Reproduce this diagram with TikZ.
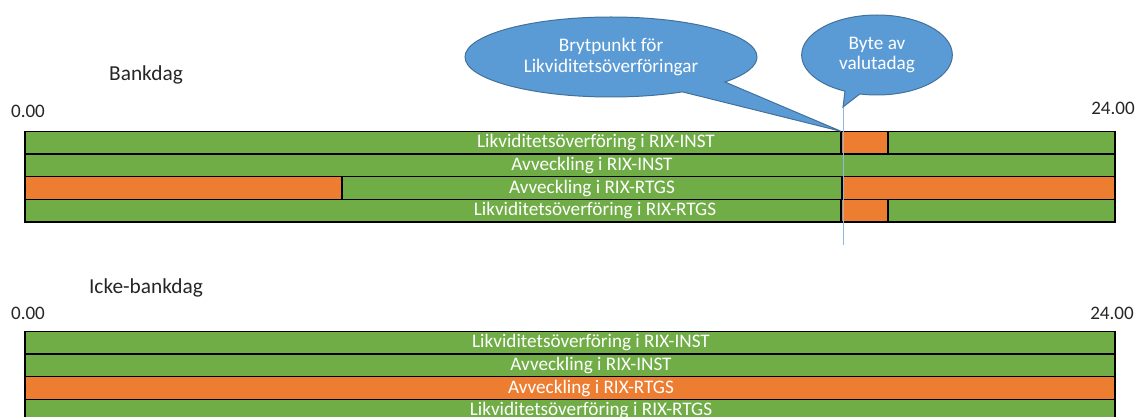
\documentclass[tikz,border=0pt]{standalone}
\usepackage{fontspec}
\setmainfont{Carlito}
\usetikzlibrary{shapes.callouts}

\definecolor{barGreen}{RGB}{112,173,71}
\definecolor{barOrange}{RGB}{237,125,49}
\definecolor{bubbleBlue}{RGB}{91,155,213}
\definecolor{bubbleEdge}{RGB}{65,113,156}

\begin{document}
\begin{tikzpicture}[
    x=0.75pt, y=-0.75pt,
    bar/.style={draw=black, line width=1.1pt},
    green bar/.style={bar, fill=barGreen},
    orange bar/.style={bar, fill=barOrange},
    rowtext/.style={text=white, font=\fontsize{14.4}{15}\selectfont, inner sep=0pt},
    tick/.style={text=black!85, font=\fontsize{14.3}{15}\selectfont, inner sep=0pt},
    heading/.style={text=black!85, font=\fontsize{16}{18}\selectfont, inner sep=0pt},
    bubble/.style={ellipse callout, fill=bubbleBlue, draw=bubbleEdge, line width=0.75pt, text=white, align=center, font=\fontsize{14.4}{15.5}\selectfont, inner sep=0pt},
    valuta line/.style={draw=bubbleBlue!70, line width=0.75pt}
]
\clip (0,0) rectangle (1137,417);
\useasboundingbox (0,0) rectangle (1137,417);

% Bankdag
\node[heading] (bankdag) at (146,75) {Bankdag};
\node[tick] (start1) at (28,111) {0.00};
\node[tick] (end1) at (1113,108) {24.00};
\draw[green bar] (25,131.3) rectangle (841,154);
\draw[orange bar] (841,131.3) rectangle (888,154);
\draw[green bar] (888,131.3) rectangle (1115,154);
\draw[green bar] (25,154) rectangle (1115,176.7);
\draw[orange bar] (25,176.7) rectangle (342,199.3);
\draw[green bar] (342,176.7) rectangle (842,199.3);
\draw[orange bar] (842,176.7) rectangle (1115,199.3);
\draw[green bar] (25,199.3) rectangle (841,222);
\draw[orange bar] (841,199.3) rectangle (888,222);
\draw[green bar] (888,199.3) rectangle (1115,222);
\node[rowtext] (inst1) at (596,142.7) {Likviditetsöverföring i RIX-INST};
\node[rowtext] (avinst1) at (592,165.3) {Avveckling i RIX-INST};
\node[rowtext] (avrtgs1) at (592,188) {Avveckling i RIX-RTGS};
\node[rowtext] (rtgs1) at (595,210.7) {Likviditetsöverföring i RIX-RTGS};

% Icke-bankdag
\node[heading] (ickebankdag) at (146,288) {Icke-bankdag};
\node[tick] (start2) at (28,313) {0.00};
\node[tick] (end2) at (1112,313) {24.00};
\draw[green bar] (25,331.3) rectangle (1115,354);
\draw[green bar] (25,354) rectangle (1115,376.7);
\draw[orange bar] (25,376.7) rectangle (1115,399.3);
\draw[green bar] (25,399.3) rectangle (1115,422);
\node[rowtext] (inst2) at (591,342.7) {Likviditetsöverföring i RIX-INST};
\node[rowtext] (avinst2) at (591,365.3) {Avveckling i RIX-INST};
\node[rowtext] (avrtgs2) at (591,388) {Avveckling i RIX-RTGS};
\node[rowtext] (rtgs2) at (591,410.7) {Likviditetsöverföring i RIX-RTGS};

% callouts
\coordinate (cut) at (841,131.3);
\coordinate (swap) at (843,107);
\coordinate (swapend) at (843,245);
\draw[valuta line] (swap) -- (swapend);
\node[bubble, minimum width=219pt, minimum height=60pt, callout absolute pointer={(cut)}, callout pointer arc=22] (brytpunkt) at (611,57) {Brytpunkt för\\Likviditetsöverföringar};
\node[bubble, minimum width=113pt, minimum height=60pt, callout absolute pointer={(swap)}, callout pointer arc=12] (byte) at (877,55) {Byte av\\valutadag};
\end{tikzpicture}
\end{document}
